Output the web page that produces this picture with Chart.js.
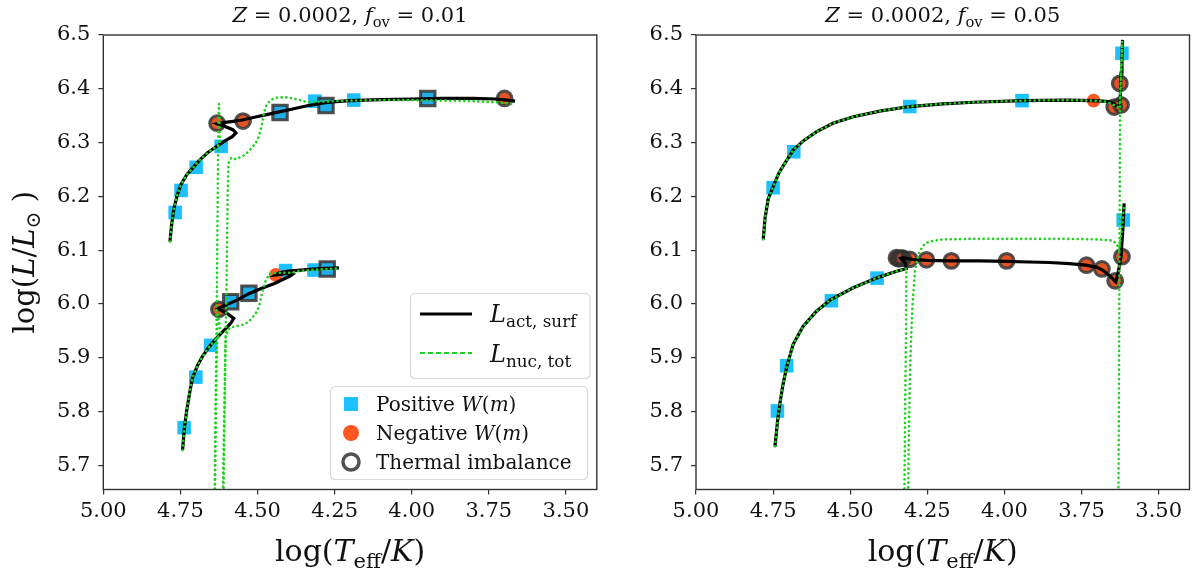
<!DOCTYPE html>
<html>
<head>
<meta charset="utf-8">
<script src="https://cdn.jsdelivr.net/npm/chart.js@4.4.1/dist/chart.umd.min.js"></script>
<style>
html,body{margin:0;padding:0;background:#fff;}
#wrap{position:relative;width:1200px;height:580px;overflow:hidden;}
.pane{position:absolute;top:0;height:580px;}
</style>
</head>
<body>
<div id="wrap">
  <div class="pane" style="left:0;width:610px;"><canvas id="c1"></canvas></div>
  <div class="pane" style="left:610px;width:590px;"><canvas id="c2"></canvas></div>
</div>
<script>
// ---------- tick labels ----------
const ticksT = [5.00, 4.75, 4.50, 4.25, 4.00, 3.75, 3.50];
const ticksL = [5.7, 5.8, 5.9, 6.0, 6.1, 6.2, 6.3, 6.4, 6.5];

// ---------- panel 1: Z=0.0002, f_ov=0.01 ----------
const ov01UpperActT = [4.784,4.778,4.770,4.760,4.748,4.730,4.711,4.690,4.662,4.640,4.619,4.600,4.582,4.570,4.580,4.605,4.630,4.612,4.585,4.550,4.510,4.470,4.430,4.390,4.350,4.314,4.280,4.247,4.200,4.100,4.000,3.900,3.800,3.730,3.690,3.665];
const ov01UpperActL = [6.116,6.150,6.180,6.203,6.222,6.240,6.252,6.266,6.281,6.290,6.298,6.305,6.311,6.318,6.324,6.330,6.335,6.337,6.339,6.342,6.347,6.352,6.357,6.362,6.367,6.371,6.374,6.376,6.378,6.380,6.381,6.382,6.382,6.381,6.379,6.377];
const ov01UpperNucT = [4.784,4.778,4.770,4.760,4.748,4.730,4.711,4.690,4.662,4.640,4.622,4.623,4.625,4.627,4.629,4.632,4.636,4.640,4.614,4.606,4.600,4.597,4.594,4.585,4.571,4.545,4.528,4.505,4.495,4.485,4.479,4.470,4.455,4.435,4.400,4.370,4.344,4.320,4.300,4.250,4.200,4.100,4.000,3.900,3.800,3.730,3.690,3.665];
const ov01UpperNucL = [6.116,6.150,6.180,6.203,6.222,6.240,6.252,6.266,6.281,6.290,6.297,6.330,6.372,6.340,6.200,6.000,5.800,5.600,5.600,5.850,6.050,6.200,6.262,6.272,6.269,6.276,6.284,6.300,6.312,6.335,6.356,6.371,6.380,6.384,6.384,6.380,6.376,6.375,6.376,6.377,6.378,6.379,6.379,6.378,6.377,6.375,6.373,6.371];
const ov01LowerActT = [4.743,4.737,4.730,4.720,4.711,4.695,4.679,4.660,4.635,4.615,4.600,4.586,4.577,4.595,4.615,4.628,4.612,4.590,4.560,4.528,4.500,4.473,4.445,4.420,4.398,4.387,4.400,4.425,4.441,4.430,4.400,4.360,4.320,4.280,4.236];
const ov01LowerActL = [5.728,5.770,5.800,5.835,5.862,5.885,5.902,5.918,5.935,5.947,5.956,5.965,5.973,5.981,5.987,5.991,5.996,6.001,6.009,6.019,6.026,6.032,6.038,6.045,6.051,6.055,6.057,6.055,6.054,6.058,6.061,6.063,6.065,6.066,6.067];
const ov01LowerNucT = [4.743,4.737,4.730,4.720,4.711,4.695,4.679,4.660,4.635,4.620,4.624,4.627,4.630,4.634,4.637,4.639,4.611,4.608,4.605,4.603,4.590,4.571,4.545,4.528,4.505,4.495,4.485,4.473,4.460,4.440,4.410,4.390,4.360,4.300,4.236];
const ov01LowerNucL = [5.728,5.770,5.800,5.835,5.862,5.885,5.902,5.918,5.935,5.944,5.965,5.985,5.960,5.850,5.700,5.600,5.600,5.750,5.880,5.940,5.956,5.958,5.962,5.967,5.983,5.995,6.020,6.045,6.056,6.058,6.058,6.058,6.062,6.064,6.066];
const ov01PosT = [4.767,4.748,4.699,4.618,4.314,4.188,4.427,4.278,3.948,4.738,4.700,4.652,4.409,4.317,4.587,4.528,4.274];
const ov01PosL = [6.170,6.211,6.254,6.293,6.377,6.379,6.356,6.369,6.382,5.770,5.864,5.923,6.062,6.063,6.004,6.020,6.065];
const ov01NegT = [4.631,4.547,3.699,4.441,4.625];
const ov01NegL = [6.336,6.340,6.382,6.054,5.990];
const ov01ThermSqT = [4.427,4.278,3.948,4.587,4.528,4.274];
const ov01ThermSqL = [6.356,6.369,6.382,6.004,6.020,6.065];
const ov01ThermCircT = [4.631,4.547,3.699,4.625];
const ov01ThermCircL = [6.336,6.340,6.382,5.990];

// ---------- panel 2: Z=0.0002, f_ov=0.05 ----------
const ov05UpperActT = [4.782,4.776,4.766,4.750,4.730,4.705,4.685,4.650,4.610,4.556,4.490,4.400,4.307,4.200,4.100,3.941,3.800,3.714,3.680,3.660,3.645,3.633,3.627,3.624,3.622,3.619,3.617];
const ov05UpperActL = [6.120,6.160,6.195,6.218,6.245,6.268,6.286,6.304,6.320,6.336,6.348,6.359,6.367,6.372,6.375,6.378,6.379,6.378,6.377,6.376,6.372,6.367,6.368,6.390,6.429,6.460,6.491];
const ov05UpperNucT = [4.782,4.776,4.766,4.750,4.730,4.705,4.685,4.650,4.610,4.556,4.490,4.400,4.307,4.200,4.100,3.941,3.800,3.714,3.680,3.660,3.645,3.633,3.627,3.624,3.621,3.619,3.618,3.622,3.625,3.627,3.629,3.631];
const ov05UpperNucL = [6.120,6.160,6.195,6.218,6.245,6.268,6.286,6.304,6.320,6.336,6.348,6.359,6.367,6.372,6.375,6.378,6.379,6.378,6.377,6.374,6.370,6.366,6.368,6.400,6.440,6.470,6.488,6.420,6.370,6.100,5.800,5.600];
const ov05LowerActT = [4.744,4.736,4.728,4.718,4.706,4.685,4.653,4.610,4.566,4.490,4.415,4.360,4.318,4.322,4.336,4.330,4.300,4.253,4.172,4.080,3.994,3.920,3.854,3.790,3.736,3.700,3.682,3.660,3.639,3.630,3.622,3.616,3.612];
const ov05LowerActL = [5.735,5.780,5.815,5.850,5.883,5.925,5.958,5.986,6.007,6.030,6.048,6.059,6.066,6.076,6.085,6.086,6.083,6.081,6.080,6.080,6.079,6.078,6.077,6.075,6.072,6.068,6.063,6.053,6.041,6.062,6.088,6.140,6.187];
const ov05LowerNucT = [4.744,4.736,4.728,4.718,4.706,4.685,4.653,4.610,4.566,4.490,4.415,4.360,4.318,4.319,4.322,4.325,4.313,4.310,4.305,4.298,4.290,4.280,4.265,4.245,4.200,4.100,4.000,3.900,3.800,3.700,3.650,3.636,3.628,3.621,3.616,3.612];
const ov05LowerNucL = [5.735,5.780,5.815,5.850,5.883,5.925,5.958,5.986,6.007,6.030,6.048,6.059,6.066,5.950,5.800,5.600,5.600,5.750,5.900,6.000,6.060,6.090,6.108,6.116,6.120,6.121,6.121,6.121,6.121,6.120,6.118,6.112,6.100,6.130,6.160,6.185];
const ov05PosT = [4.750,4.683,4.307,3.943,3.619,4.736,4.706,4.561,4.413,3.615];
const ov05PosL = [6.216,6.283,6.367,6.378,6.466,5.801,5.885,6.006,6.048,6.156];
const ov05NegT = [3.711,3.626,3.644,3.622,4.350,4.343,4.336,4.329,4.307,4.253,4.172,3.993,3.734,3.684,3.641,3.619];
const ov05NegL = [6.378,6.410,6.366,6.370,6.086,6.084,6.085,6.085,6.083,6.082,6.080,6.080,6.072,6.065,6.043,6.088];
const ov05ThermSqT = [];
const ov05ThermSqL = [];
const ov05ThermCircT = [3.626,3.644,3.622,4.350,4.343,4.336,4.329,4.307,4.253,4.172,3.993,3.734,3.684,3.641,3.619];
const ov05ThermCircL = [6.410,6.366,6.370,6.086,6.084,6.085,6.085,6.083,6.082,6.080,6.080,6.072,6.065,6.043,6.088];

// ---------- styling ----------
const FAM = '"DejaVu Serif", serif';
const C_ACT = '#000000';
const C_NUC = '#1fd21f';
const C_POS = '#1ec0ff';
const C_NEG = '#ff5722';
const C_RING = 'rgba(50,50,50,0.85)';

const zip = (xs, ys) => xs.map((x, i) => ({x: x, y: ys[i]}));

function rich(ctx, parts, x, y, size, align) {
  const segs = parts.map(p => {
    const s = p.sub ? size * 0.7 : size;
    const font = (p.it ? 'italic ' : '') + s.toFixed(1) + 'px ' + FAM;
    ctx.font = font;
    return {t: p.t, font: font, w: ctx.measureText(p.t).width, dy: p.sub ? size * 0.22 : 0};
  });
  const total = segs.reduce((a, s) => a + s.w, 0);
  let cx = align === 'center' ? x - total / 2 : x;
  ctx.textAlign = 'left';
  ctx.textBaseline = 'alphabetic';
  segs.forEach(s => { ctx.font = s.font; ctx.fillText(s.t, cx, y + s.dy); cx += s.w; });
}

function roundRect(ctx, x, y, w, h, r) {
  ctx.beginPath();
  ctx.moveTo(x + r, y);
  ctx.lineTo(x + w - r, y); ctx.quadraticCurveTo(x + w, y, x + w, y + r);
  ctx.lineTo(x + w, y + h - r); ctx.quadraticCurveTo(x + w, y + h, x + w - r, y + h);
  ctx.lineTo(x + r, y + h); ctx.quadraticCurveTo(x, y + h, x, y + h - r);
  ctx.lineTo(x, y + r); ctx.quadraticCurveTo(x, y, x + r, y);
  ctx.closePath();
}

function decorPlugin(opts) {
  return {
    id: 'decor',
    afterDraw(chart) {
      const ctx = chart.ctx;
      const a = chart.chartArea;
      ctx.save();
      // frame
      ctx.strokeStyle = '#333';
      ctx.lineWidth = 1.4;
      ctx.strokeRect(a.left, a.top, a.right - a.left, a.bottom - a.top);
      ctx.fillStyle = '#111';
      // title
      rich(ctx, opts.title, (a.left + a.right) / 2, 22, 21, 'center');
      // x label
      rich(ctx, [{t: 'log('}, {t: 'T', it: 1}, {t: 'eff', sub: 1}, {t: '/'}, {t: 'K', it: 1}, {t: ')'}], (a.left + a.right) / 2, 561, 30, 'center');
      if (opts.ylabel) {
        ctx.save();
        ctx.translate(34, (a.top + a.bottom) / 2);
        ctx.rotate(-Math.PI / 2);
        rich(ctx, [{t: 'log('}, {t: 'L', it: 1}, {t: '/'}, {t: 'L', it: 1}, {t: '\u2299', sub: 1}, {t: ' )'}], 0, 0, 29, 'center');
        ctx.restore();
      }
      if (opts.legend) {
        // legend 1: lines
        ctx.fillStyle = 'rgba(255,255,255,0.85)';
        roundRect(ctx, 410.5, 293.5, 179.5, 85, 5);
        ctx.fill();
        ctx.strokeStyle = '#d8d8d8'; ctx.lineWidth = 1.2; ctx.stroke();
        ctx.strokeStyle = C_ACT; ctx.lineWidth = 3.2; ctx.setLineDash([]);
        ctx.beginPath(); ctx.moveTo(420, 314); ctx.lineTo(472, 314); ctx.stroke();
        ctx.strokeStyle = C_NUC; ctx.lineWidth = 2; ctx.setLineDash([5, 3]);
        ctx.beginPath(); ctx.moveTo(420, 353); ctx.lineTo(472, 353); ctx.stroke();
        ctx.setLineDash([]);
        ctx.fillStyle = '#111';
        rich(ctx, [{t: 'L', it: 1}, {t: 'act, surf', sub: 1}], 490, 322, 24, 'left');
        rich(ctx, [{t: 'L', it: 1}, {t: 'nuc, tot', sub: 1}], 490, 362, 24, 'left');
        // legend 2: markers
        ctx.fillStyle = 'rgba(255,255,255,0.85)';
        roundRect(ctx, 330.5, 386.5, 257, 93, 5);
        ctx.fill();
        ctx.strokeStyle = '#d8d8d8'; ctx.lineWidth = 1.2; ctx.stroke();
        ctx.fillStyle = C_POS;
        ctx.fillRect(344, 397, 14, 14);
        ctx.fillStyle = C_NEG;
        ctx.beginPath(); ctx.arc(351, 433, 8, 0, Math.PI * 2); ctx.fill();
        ctx.strokeStyle = C_RING; ctx.lineWidth = 3.5;
        ctx.beginPath(); ctx.arc(351, 462, 8, 0, Math.PI * 2); ctx.stroke();
        ctx.fillStyle = '#111';
        rich(ctx, [{t: 'Positive '}, {t: 'W', it: 1}, {t: '('}, {t: 'm', it: 1}, {t: ')'}], 376, 411, 20, 'left');
        rich(ctx, [{t: 'Negative '}, {t: 'W', it: 1}, {t: '('}, {t: 'm', it: 1}, {t: ')'}], 376, 440, 20, 'left');
        rich(ctx, [{t: 'Thermal imbalance'}], 376, 469, 20, 'left');
      }
      ctx.restore();
    }
  };
}

function lineDs(xs, ys, color, width, dash, cap, order) {
  return {type: 'scatter', data: zip(xs, ys), showLine: true, borderColor: color, borderWidth: width,
          borderDash: dash, borderCapStyle: cap, pointRadius: 0, pointHoverRadius: 0, tension: 0, fill: false, order: order, clip: 0};
}

function makePanel(id, d, opts) {
  const datasets = [];
  d.nuc.forEach(s => datasets.push(lineDs(s[0], s[1], C_NUC, 2.6, [0.1, 4.6], 'round', 0)));
  d.act.forEach(s => datasets.push(lineDs(s[0], s[1], C_ACT, 3.2, [], 'butt', 1)));
  datasets.push({data: zip(d.thermSqT, d.thermSqL), pointStyle: 'rect', pointRadius: 10.2, borderWidth: 3,
                 borderColor: C_RING, backgroundColor: 'rgba(60,60,60,0.12)', order: 2, clip: false});
  datasets.push({data: zip(d.thermCircT, d.thermCircL), pointStyle: 'circle', pointRadius: 7.4, borderWidth: 3,
                 borderColor: C_RING, backgroundColor: 'rgba(60,60,60,0.15)', order: 3, clip: false});
  datasets.push({data: zip(d.negT, d.negL), pointStyle: 'circle', pointRadius: 6.8, borderWidth: 0,
                 backgroundColor: C_NEG, borderColor: C_NEG, order: 4, clip: false});
  datasets.push({data: zip(d.posT, d.posL), pointStyle: 'rect', pointRadius: 9.6, borderWidth: 0,
                 backgroundColor: C_POS, borderColor: C_POS, order: 5, clip: false});

  const tickFont = {family: FAM, size: 21};
  return new Chart(document.getElementById(id), {
    type: 'scatter',
    data: {datasets: datasets},
    options: {
      responsive: true,
      maintainAspectRatio: false,
      animation: false,
      events: [],
      layout: {padding: {top: 35, right: opts.padRight, left: 0, bottom: 0}},
      plugins: {legend: {display: false}, tooltip: {enabled: false}, title: {display: false}},
      scales: {
        x: {
          type: 'linear', reverse: true, min: 3.4, max: 5.0,
          afterBuildTicks: s => { s.ticks = ticksT.map(v => ({value: v})); },
          afterFit: s => { s.height = 90.5; },
          ticks: {font: tickFont, color: '#111', padding: 4, maxRotation: 0, autoSkip: false,
                  callback: v => Number(v).toFixed(2)},
          grid: {display: true, drawOnChartArea: false, drawTicks: true, tickLength: 5, color: '#333', lineWidth: 1.2},
          border: {display: false}
        },
        y: {
          type: 'linear', min: 5.655, max: 6.5,
          afterBuildTicks: s => { s.ticks = ticksL.map(v => ({value: v})); },
          afterFit: s => { s.width = opts.yWidth; },
          ticks: {font: tickFont, color: '#111', padding: 8, autoSkip: false,
                  callback: v => Number(v).toFixed(1)},
          grid: {display: true, drawOnChartArea: false, drawTicks: true, tickLength: 5, color: '#333', lineWidth: 1.2},
          border: {display: false}
        }
      }
    },
    plugins: [decorPlugin(opts)]
  });
}

makePanel('c1', {
  act: [[ov01UpperActT, ov01UpperActL], [ov01LowerActT, ov01LowerActL]],
  nuc: [[ov01UpperNucT, ov01UpperNucL], [ov01LowerNucT, ov01LowerNucL]],
  posT: ov01PosT, posL: ov01PosL, negT: ov01NegT, negL: ov01NegL,
  thermSqT: ov01ThermSqT, thermSqL: ov01ThermSqL, thermCircT: ov01ThermCircT, thermCircL: ov01ThermCircL
}, {
  padRight: 11.3, yWidth: 103.3, ylabel: true, legend: true,
  title: [{t: 'Z', it: 1}, {t: ' = 0.0002, '}, {t: 'f', it: 1}, {t: 'ov', sub: 1}, {t: ' = 0.01'}]
});

makePanel('c2', {
  act: [[ov05UpperActT, ov05UpperActL], [ov05LowerActT, ov05LowerActL]],
  nuc: [[ov05UpperNucT, ov05UpperNucL], [ov05LowerNucT, ov05LowerNucL]],
  posT: ov05PosT, posL: ov05PosL, negT: ov05NegT, negL: ov05NegL,
  thermSqT: ov05ThermSqT, thermSqL: ov05ThermSqL, thermCircT: ov05ThermCircT, thermCircL: ov05ThermCircL
}, {
  padRight: 10.5, yWidth: 86, ylabel: false, legend: false,
  title: [{t: 'Z', it: 1}, {t: ' = 0.0002, '}, {t: 'f', it: 1}, {t: 'ov', sub: 1}, {t: ' = 0.05'}]
});
</script>
</body>
</html>
